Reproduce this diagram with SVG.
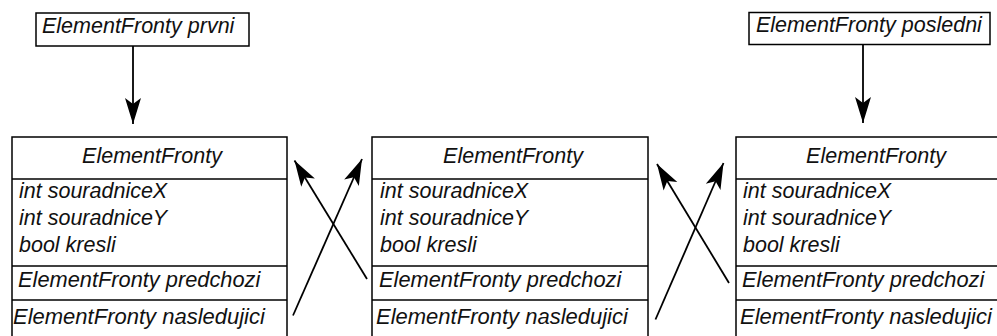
<svg xmlns="http://www.w3.org/2000/svg" width="997" height="336" viewBox="0 0 997 336">
<defs>
<style>
.box{fill:#fff;stroke:#000;stroke-width:1.5}
.div{stroke:#000;stroke-width:1.5}
.t{font-family:"Liberation Sans",Arial,sans-serif;font-style:italic;font-size:21.5px;fill:#111}
.c{text-anchor:middle}
.edge{stroke:#000;stroke-width:1.8;fill:none;marker-end:url(#ah)}
</style>
<marker id="ah" markerUnits="userSpaceOnUse" markerWidth="30" markerHeight="20" viewBox="-27 -10 28 20" refX="0" refY="0" orient="auto">
<path d="M0,0 L-26,-8 L-20,0 L-26,8 Z" fill="#000"/>
</marker>
</defs>
<g id="prvni">
<rect class="box" x="36" y="13" width="213" height="33"/>
<text class="t" x="42" y="33">ElementFronty prvni</text>
</g>
<g id="posledni">
<rect class="box" x="749" y="12.5" width="241" height="32"/>
<text class="t" x="756" y="32">ElementFronty posledni</text>
</g>
<g id="element1">
<rect class="box" x="12" y="137" width="275" height="210"/>
<line class="div" x1="12" y1="179" x2="287" y2="179"/>
<line class="div" x1="12" y1="266" x2="287" y2="266"/>
<line class="div" x1="12" y1="300" x2="287" y2="300"/>
<text class="t c" x="152" y="163">ElementFronty</text>
<text class="t" x="19" y="198">int souradniceX</text>
<text class="t" x="19" y="225">int souradniceY</text>
<text class="t" x="19" y="252">bool kresli</text>
<text class="t" x="18" y="287" style="font-size:21.8px">ElementFronty predchozi</text>
<text class="t" x="13" y="324" style="font-size:22px">ElementFronty nasledujici</text>
</g>
<g id="element2">
<rect class="box" x="372" y="137" width="276" height="210"/>
<line class="div" x1="372" y1="179" x2="648" y2="179"/>
<line class="div" x1="372" y1="266" x2="648" y2="266"/>
<line class="div" x1="372" y1="300" x2="648" y2="300"/>
<text class="t c" x="513" y="163">ElementFronty</text>
<text class="t" x="380" y="198">int souradniceX</text>
<text class="t" x="380" y="225">int souradniceY</text>
<text class="t" x="380" y="252">bool kresli</text>
<text class="t" x="379" y="287" style="font-size:21.8px">ElementFronty predchozi</text>
<text class="t" x="376" y="324" style="font-size:22px">ElementFronty nasledujici</text>
</g>
<g id="element3">
<rect class="box" x="736" y="137" width="275" height="210"/>
<line class="div" x1="736" y1="179" x2="1011" y2="179"/>
<line class="div" x1="736" y1="266" x2="1011" y2="266"/>
<line class="div" x1="736" y1="300" x2="1011" y2="300"/>
<text class="t c" x="876" y="163">ElementFronty</text>
<text class="t" x="743" y="198">int souradniceX</text>
<text class="t" x="743" y="225">int souradniceY</text>
<text class="t" x="743" y="252">bool kresli</text>
<text class="t" x="742" y="287" style="font-size:21.8px">ElementFronty predchozi</text>
<text class="t" x="740" y="324" style="font-size:22px">ElementFronty nasledujici</text>
</g>
<g id="connectors">
<line class="edge" x1="133" y1="46" x2="133" y2="124"/>
<line class="edge" x1="863" y1="45" x2="863" y2="123"/>
<line class="edge" x1="367" y1="279" x2="294.5" y2="160.5"/>
<line class="edge" x1="293" y1="315.5" x2="362" y2="159"/>
<line class="edge" x1="729" y1="283" x2="657" y2="164"/>
<line class="edge" x1="655.5" y1="319.5" x2="723.5" y2="163"/>
</g>
</svg>
